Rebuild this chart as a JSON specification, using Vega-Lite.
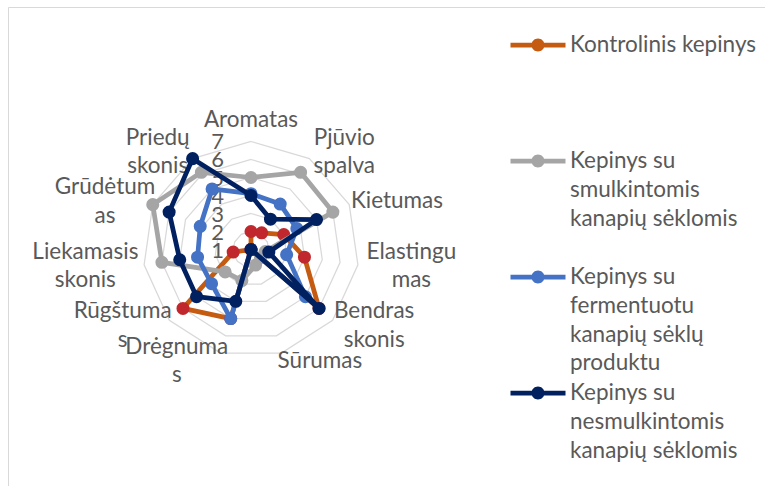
{
  "$schema": "https://vega.github.io/schema/vega-lite/v6.json",
  "width": 758,
  "height": 480,
  "autosize": {"type": "none"},
  "padding": {"left": 8, "top": 7, "right": 0, "bottom": 0},
  "background": "#FFFFFF",
  "config": {"view": {"stroke": "#D9D9D9", "strokeWidth": 1}, "legend": {"labelFont": "Lato"}},
  "datasets": {
    "axes": [
      {"attribute": "Aromatas", "idx": 0, "name": "Aromatas", "levels": [2, 3, 4, 5, 6, 7]},
      {"attribute": "Pjūvio spalva", "idx": 1, "name": "Pjūvio\nspalva", "levels": [2, 3, 4, 5, 6, 7]},
      {"attribute": "Kietumas", "idx": 2, "name": "Kietumas", "levels": [2, 3, 4, 5, 6, 7]},
      {"attribute": "Elastingumas", "idx": 3, "name": "Elastingu\nmas", "levels": [2, 3, 4, 5, 6, 7]},
      {"attribute": "Bendras skonis", "idx": 4, "name": "Bendras\nskonis", "levels": [2, 3, 4, 5, 6, 7]},
      {"attribute": "Sūrumas", "idx": 5, "name": "Sūrumas", "levels": [2, 3, 4, 5, 6, 7]},
      {"attribute": "Drėgnumas", "idx": 6, "name": "Drėgnuma\ns", "levels": [2, 3, 4, 5, 6, 7]},
      {"attribute": "Rūgštumas", "idx": 7, "name": "Rūgštuma\ns", "levels": [2, 3, 4, 5, 6, 7]},
      {"attribute": "Liekamasis skonis", "idx": 8, "name": "Liekamasis\nskonis", "levels": [2, 3, 4, 5, 6, 7]},
      {"attribute": "Grūdėtumas", "idx": 9, "name": "Grūdėtum\nas", "levels": [2, 3, 4, 5, 6, 7]},
      {"attribute": "Priedų skonis", "idx": 10, "name": "Priedų\nskonis", "levels": [2, 3, 4, 5, 6, 7]}
    ],
    "ticks": [{"t": 1}, {"t": 2}, {"t": 3}, {"t": 4}, {"t": 5}, {"t": 6}, {"t": 7}],
    "scores": [
      {"series": "Kontrolinis kepinys", "attribute": "Aromatas", "value": 2},
      {"series": "Kontrolinis kepinys", "attribute": "Pjūvio spalva", "value": 2.1},
      {"series": "Kontrolinis kepinys", "attribute": "Kietumas", "value": 3},
      {"series": "Kontrolinis kepinys", "attribute": "Elastingumas", "value": 4},
      {"series": "Kontrolinis kepinys", "attribute": "Bendras skonis", "value": 6},
      {"series": "Kontrolinis kepinys", "attribute": "Sūrumas", "value": 1},
      {"series": "Kontrolinis kepinys", "attribute": "Drėgnumas", "value": 5},
      {"series": "Kontrolinis kepinys", "attribute": "Rūgštumas", "value": 6},
      {"series": "Kontrolinis kepinys", "attribute": "Liekamasis skonis", "value": 2},
      {"series": "Kontrolinis kepinys", "attribute": "Grūdėtumas", "value": 1},
      {"series": "Kontrolinis kepinys", "attribute": "Priedų skonis", "value": 1},
      {"series": "Kepinys su smulkintomis kanapių sėklomis", "attribute": "Aromatas", "value": 5},
      {"series": "Kepinys su smulkintomis kanapių sėklomis", "attribute": "Pjūvio spalva", "value": 6.1},
      {"series": "Kepinys su smulkintomis kanapių sėklomis", "attribute": "Kietumas", "value": 6},
      {"series": "Kepinys su smulkintomis kanapių sėklomis", "attribute": "Elastingumas", "value": 1.8},
      {"series": "Kepinys su smulkintomis kanapių sėklomis", "attribute": "Bendras skonis", "value": 1.7},
      {"series": "Kepinys su smulkintomis kanapių sėklomis", "attribute": "Sūrumas", "value": 1.9},
      {"series": "Kepinys su smulkintomis kanapių sėklomis", "attribute": "Drėgnumas", "value": 2.8},
      {"series": "Kepinys su smulkintomis kanapių sėklomis", "attribute": "Rūgštumas", "value": 2.9},
      {"series": "Kepinys su smulkintomis kanapių sėklomis", "attribute": "Liekamasis skonis", "value": 6},
      {"series": "Kepinys su smulkintomis kanapių sėklomis", "attribute": "Grūdėtumas", "value": 7},
      {"series": "Kepinys su smulkintomis kanapių sėklomis", "attribute": "Priedų skonis", "value": 6.1},
      {"series": "Kepinys su fermentuotu kanapių sėklų produktu", "attribute": "Aromatas", "value": 4.1},
      {"series": "Kepinys su fermentuotu kanapių sėklų produktu", "attribute": "Pjūvio spalva", "value": 4},
      {"series": "Kepinys su fermentuotu kanapių sėklų produktu", "attribute": "Kietumas", "value": 3.8},
      {"series": "Kepinys su fermentuotu kanapių sėklų produktu", "attribute": "Elastingumas", "value": 3},
      {"series": "Kepinys su fermentuotu kanapių sėklų produktu", "attribute": "Bendras skonis", "value": 5},
      {"series": "Kepinys su fermentuotu kanapių sėklų produktu", "attribute": "Sūrumas", "value": 1},
      {"series": "Kepinys su fermentuotu kanapių sėklų produktu", "attribute": "Drėgnumas", "value": 5},
      {"series": "Kepinys su fermentuotu kanapių sėklų produktu", "attribute": "Rūgštumas", "value": 3.9},
      {"series": "Kepinys su fermentuotu kanapių sėklų produktu", "attribute": "Liekamasis skonis", "value": 4},
      {"series": "Kepinys su fermentuotu kanapių sėklų produktu", "attribute": "Grūdėtumas", "value": 4.1},
      {"series": "Kepinys su fermentuotu kanapių sėklų produktu", "attribute": "Priedų skonis", "value": 5},
      {"series": "Kepinys su nesmulkintomis kanapių sėklomis", "attribute": "Aromatas", "value": 4},
      {"series": "Kepinys su nesmulkintomis kanapių sėklomis", "attribute": "Pjūvio spalva", "value": 3},
      {"series": "Kepinys su nesmulkintomis kanapių sėklomis", "attribute": "Kietumas", "value": 5},
      {"series": "Kepinys su nesmulkintomis kanapių sėklomis", "attribute": "Elastingumas", "value": 2},
      {"series": "Kepinys su nesmulkintomis kanapių sėklomis", "attribute": "Bendras skonis", "value": 6},
      {"series": "Kepinys su nesmulkintomis kanapių sėklomis", "attribute": "Sūrumas", "value": 1},
      {"series": "Kepinys su nesmulkintomis kanapių sėklomis", "attribute": "Drėgnumas", "value": 4},
      {"series": "Kepinys su nesmulkintomis kanapių sėklomis", "attribute": "Rūgštumas", "value": 5},
      {"series": "Kepinys su nesmulkintomis kanapių sėklomis", "attribute": "Liekamasis skonis", "value": 5},
      {"series": "Kepinys su nesmulkintomis kanapių sėklomis", "attribute": "Grūdėtumas", "value": 6},
      {"series": "Kepinys su nesmulkintomis kanapių sėklomis", "attribute": "Priedų skonis", "value": 7}
    ]
  },
  "encoding": {
    "x": {"field": "px", "type": "quantitative", "scale": {"domain": [-13.5, 28.611], "nice": false, "zero": false}, "axis": null},
    "y": {"field": "py", "type": "quantitative", "scale": {"domain": [-13.194, 13.472], "nice": false, "zero": false}, "axis": null}
  },
  "layer": [
    {
      "data": {"name": "axes"},
      "transform": [
        {"flatten": ["levels"], "as": ["level"]},
        {"calculate": "(datum.level - 1) * sin(2 * PI * datum.idx / 11)", "as": "px"},
        {"calculate": "(datum.level - 1) * cos(2 * PI * datum.idx / 11)", "as": "py"}
      ],
      "mark": {"type": "line", "interpolate": "linear-closed", "color": "#D9D9D9", "strokeWidth": 1.25},
      "encoding": {
        "detail": {"field": "level", "type": "nominal"},
        "order": {"field": "idx", "type": "quantitative"}
      }
    },
    {
      "data": {"name": "ticks"},
      "transform": [
        {"calculate": "0", "as": "px"},
        {"calculate": "datum.t - 1", "as": "py"}
      ],
      "mark": {"type": "text", "align": "right", "baseline": "middle", "dx": -27, "dy": 1, "fontSize": 22, "color": "#595959", "font": "Lato"},
      "encoding": {"text": {"field": "t", "type": "quantitative"}}
    },
    {
      "data": {"name": "axes"},
      "transform": [
        {"calculate": "2 * PI * datum.idx / 11", "as": "th"},
        {"calculate": "sin(datum.th)", "as": "s"},
        {"calculate": "cos(datum.th)", "as": "c"},
        {"calculate": "split(datum.name, '\\n')", "as": "arr"},
        {"calculate": "length(datum.arr)", "as": "n"},
        {"calculate": "max(length(datum.arr[0]), datum.n > 1 ? length(datum.arr[1]) : 0)", "as": "ml"},
        {"calculate": "datum.ml * 10.5 / 18", "as": "w"},
        {"calculate": "datum.s > 0.1 ? 1 : (datum.s < -0.1 ? -1 : 0)", "as": "side"},
        {"calculate": "6.35 * datum.s + datum.side * datum.w / 2", "as": "px"},
        {"calculate": "6.444 * datum.c + (abs(datum.s) < 0.1 ? 0.75 : 0) + (datum.n - 1) * (28.5 / 18) / 2", "as": "py"}
      ],
      "mark": {"type": "text", "align": "center", "baseline": "middle", "lineBreak": "\n", "lineHeight": 28.5, "fontSize": 22.5, "color": "#595959", "font": "Lato"},
      "encoding": {"text": {"field": "name", "type": "nominal"}}
    },
    {
      "data": {"name": "scores"},
      "transform": [
        {"lookup": "attribute", "from": {"data": {"name": "axes"}, "key": "attribute", "fields": ["idx"]}},
        {"calculate": "(datum.value - 1) * sin(2 * PI * datum.idx / 11)", "as": "px"},
        {"calculate": "(datum.value - 1) * cos(2 * PI * datum.idx / 11)", "as": "py"}
      ],
      "encoding": {
        "color": {
          "field": "series",
          "type": "nominal",
          "scale": {
            "domain": ["Kontrolinis kepinys", "Kepinys su smulkintomis kanapių sėklomis", "Kepinys su fermentuotu kanapių sėklų produktu", "Kepinys su nesmulkintomis kanapių sėklomis"],
            "range": ["#C55A11", "#A5A5A5", "#4472C4", "#002060"]
          },
          "legend": {
            "orient": "none",
            "legendX": 517.5,
            "legendY": 25.5,
            "title": null,
            "padding": 0,
            "rowPadding": 5,
            "symbolType": "M-2.2,-0.19H2.2V0.19H-2.2Z M0.52,0A0.52,0.52,0,1,1,-0.52,0A0.52,0.52,0,1,1,0.52,0Z",
            "symbolSize": 625,
            "symbolStrokeWidth": 0,
            "labelFontSize": 22.5,
            "labelColor": "#595959",
            "labelLimit": 400,
            "labelOffset": 19.5,
            "labelBaseline": "middle",
            "labelExpr": "datum.label === 'Kontrolinis kepinys' ? ['Kontrolinis kepinys', '', '', ''] : datum.label === 'Kepinys su smulkintomis kanapių sėklomis' ? ['Kepinys su', 'smulkintomis', 'kanapių sėklomis', ''] : datum.label === 'Kepinys su fermentuotu kanapių sėklų produktu' ? ['Kepinys su', 'fermentuotu', 'kanapių sėklų', 'produktu'] : ['Kepinys su', 'nesmulkintomis', 'kanapių sėklomis', '']",
            "encode": {
              "symbols": {"update": {"fill": {"scale": "color", "field": "value"}, "stroke": {"value": "transparent"}}},
              "labels": {"update": {"lineHeight": {"value": 28.75}}}
            }
          }
        },
        "order": {"field": "idx", "type": "quantitative"}
      },
      "layer": [
        {"transform": [{"filter": "datum.series === 'Kontrolinis kepinys'"}], "mark": {"type": "line", "interpolate": "linear-closed", "strokeWidth": 4.75, "strokeJoin": "round"}},
        {"transform": [{"filter": "datum.series === 'Kontrolinis kepinys'"}], "mark": {"type": "point", "filled": true, "size": 170, "opacity": 1}, "encoding": {"color": {"value": "#C0282D"}}},
        {"transform": [{"filter": "datum.series === 'Kepinys su smulkintomis kanapių sėklomis'"}], "mark": {"type": "line", "interpolate": "linear-closed", "strokeWidth": 4.75, "strokeJoin": "round"}},
        {"transform": [{"filter": "datum.series === 'Kepinys su smulkintomis kanapių sėklomis'"}], "mark": {"type": "point", "filled": true, "size": 170, "opacity": 1}, "encoding": {"color": {"value": "#A5A5A5"}}},
        {"transform": [{"filter": "datum.series === 'Kepinys su fermentuotu kanapių sėklų produktu'"}], "mark": {"type": "line", "interpolate": "linear-closed", "strokeWidth": 4.75, "strokeJoin": "round"}},
        {"transform": [{"filter": "datum.series === 'Kepinys su fermentuotu kanapių sėklų produktu'"}], "mark": {"type": "point", "filled": true, "size": 170, "opacity": 1}, "encoding": {"color": {"value": "#4472C4"}}},
        {"transform": [{"filter": "datum.series === 'Kepinys su nesmulkintomis kanapių sėklomis'"}], "mark": {"type": "line", "interpolate": "linear-closed", "strokeWidth": 4.75, "strokeJoin": "round"}},
        {"transform": [{"filter": "datum.series === 'Kepinys su nesmulkintomis kanapių sėklomis'"}], "mark": {"type": "point", "filled": true, "size": 170, "opacity": 1}, "encoding": {"color": {"value": "#002060"}}}
      ]
    }
  ]
}
